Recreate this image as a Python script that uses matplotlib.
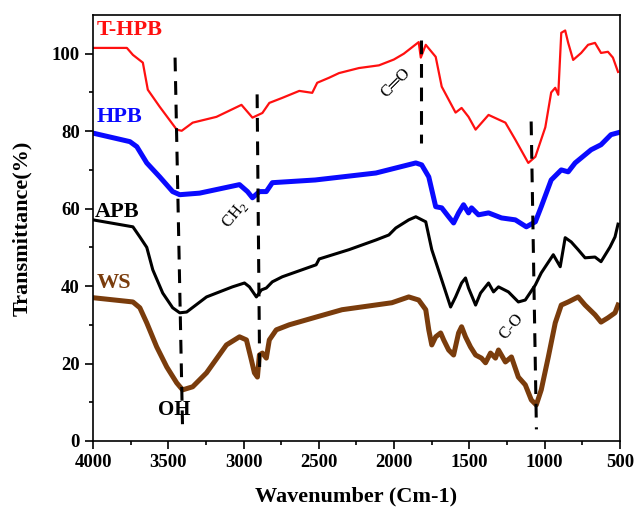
import numpy as np
import matplotlib
matplotlib.use('Agg')
from matplotlib import pyplot as plt

plt.rcParams['font.family'] = ['Liberation Serif', 'DejaVu Serif']
plt.rcParams['mathtext.fontset'] = 'custom'
plt.rcParams['mathtext.rm'] = 'Liberation Serif'

# FTIR spectra, wavenumber (cm-1) vs transmittance (%)
thpb_x = [4000, 3775, 3735, 3669, 3636, 3557, 3444, 3411, 3338, 3180, 3014, 2941, 2875,
          2829, 2743, 2630, 2544, 2511, 2432, 2366, 2234, 2101, 2002, 1936, 1870, 1837,
          1823, 1790, 1724, 1684, 1592, 1552, 1506, 1459, 1373, 1261, 1195, 1109, 1062,
          996, 957, 930, 910, 890, 864, 844, 811, 758, 712, 666, 626, 580, 547, 513]
thpb_y = [101.5, 101.5, 99.7, 97.7, 90.7, 86.3, 80.4, 80.1, 82.2, 83.7, 86.8, 83.5, 84.7,
          87.3, 88.6, 90.4, 89.9, 92.5, 93.8, 95.0, 96.3, 97.0, 98.5, 100.0, 102.0, 103.0,
          99.0, 102.3, 99.2, 91.5, 84.8, 86.0, 83.7, 80.4, 84.2, 82.2, 77.8, 71.8, 73.4,
          81.0, 90.0, 91.2, 89.4, 105.4, 106.0, 102.8, 98.4, 100.2, 102.3, 102.8, 100.2,
          100.5, 99.0, 95.3]

hpb_x = [4000, 3755, 3709, 3643, 3557, 3471, 3424, 3292, 3027, 2974, 2941, 2895, 2849,
         2809, 2524, 2121, 1856, 1817, 1770, 1724, 1684, 1638, 1605, 1572, 1539, 1506,
         1486, 1440, 1373, 1287, 1195, 1122, 1062, 1023, 957, 890, 844, 798, 692, 626,
         560, 513]
hpb_y = [79.5, 77.3, 76.0, 71.8, 68.2, 64.4, 63.6, 64.0, 66.2, 64.4, 62.8, 64.4, 64.4,
         66.7, 67.4, 69.2, 71.8, 71.3, 68.2, 60.5, 60.2, 57.9, 56.3, 58.9, 61.0, 58.9,
         60.2, 58.4, 58.9, 57.6, 57.1, 55.3, 56.6, 60.5, 67.4, 70.0, 69.5, 71.8, 75.2,
         76.5, 79.1, 79.6]

apb_x = [4000, 3735, 3689, 3643, 3603, 3537, 3471, 3424, 3378, 3246, 3074, 2994, 2961,
         2915, 2882, 2849, 2809, 2743, 2518, 2498, 2300, 2121, 2035, 1989, 1903, 1856,
         1790, 1750, 1684, 1625, 1592, 1552, 1526, 1506, 1459, 1426, 1373, 1340, 1307,
         1241, 1175, 1129, 1062, 1023, 943, 897, 864, 824, 778, 732, 666, 626, 566, 533,
         513]
apb_y = [57.1, 55.3, 52.7, 50.0, 44.2, 38.2, 34.4, 33.1, 33.3, 37.2, 39.8, 40.8, 39.8,
         37.2, 39.0, 39.5, 41.1, 42.4, 45.5, 47.0, 49.4, 51.9, 53.2, 55.0, 57.1, 57.9,
         56.6, 49.4, 41.6, 34.6, 37.2, 40.8, 42.1, 39.5, 35.1, 38.2, 40.8, 38.5, 39.8,
         38.5, 35.9, 36.4, 40.3, 43.4, 48.1, 45.0, 52.5, 51.4, 49.4, 47.3, 47.5, 46.3,
         50.1, 52.7, 56.0]

ws_x = [4000, 3735, 3689, 3643, 3577, 3510, 3444, 3405, 3338, 3246, 3114, 3027, 2981,
        2948, 2928, 2908, 2895, 2875, 2849, 2829, 2783, 2697, 2518, 2346, 2015, 1903,
        1837, 1790, 1770, 1750, 1724, 1691, 1671, 1638, 1605, 1572, 1552, 1526, 1493,
        1459, 1420, 1393, 1360, 1327, 1307, 1261, 1221, 1175, 1129, 1089, 1056, 1023,
        976, 930, 890, 844, 778, 732, 666, 626, 580, 533, 513]
ws_y = [37.0, 35.9, 34.4, 30.5, 24.3, 19.1, 15.0, 13.2, 14.0, 17.6, 24.8, 26.9, 26.1,
        20.9, 17.6, 16.5, 22.2, 22.7, 21.4, 26.1, 28.7, 30.0, 32.0, 33.9, 35.7, 37.2,
        36.4, 33.9, 28.7, 24.8, 26.9, 27.9, 26.1, 23.5, 22.2, 27.9, 29.5, 26.9, 24.3,
        22.2, 21.4, 20.2, 22.7, 21.4, 23.5, 20.4, 21.7, 16.5, 14.5, 10.6, 9.3, 13.2,
        21.7, 30.5, 35.1, 35.9, 37.2, 35.1, 32.6, 30.7, 31.8, 33.1, 35.1]

# band markers: (x_top, y_top, x_bottom, y_bottom)
band_lines = [(3455, 99, 3405, 3),
              (2910, 89.5, 2893, 17.5),
              (1823, 103.5, 1823, 77),
              (1090, 82.5, 1055, 3)]

brown = '#7a3c0c'

fig = plt.figure(figsize=(6.34, 5.12), dpi=100)
ax = fig.add_axes([0.1467, 0.1387, 0.8312, 0.832])

ax.plot(thpb_x, thpb_y, color='#ff1010', lw=1.6)
ax.plot(hpb_x, hpb_y, color='#0a0aff', lw=3.6)
ax.plot(apb_x, apb_y, color='black', lw=2.2)
ax.plot(ws_x, ws_y, color=brown, lw=3.6)

for x0, y0, x1, y1 in band_lines:
    ax.plot([x0, x1], [y0, y1], color='black', lw=2.2, linestyle=(0, (4.5, 3.2)))

ax.text(3975, 106.2, 'T-HPB', color='#ff1010', fontsize=16, fontweight='bold', va='center')
ax.text(3975, 83.7, 'HPB', color='#0a0aff', fontsize=16, fontweight='bold', va='center')
ax.text(3985, 59.2, 'APB', color='black', fontsize=16, fontweight='bold', va='center')
ax.text(3975, 40.8, 'WS', color=brown, fontsize=16, fontweight='bold', va='center')
ax.text(3460, 8, 'OH', color='black', fontsize=15, fontweight='bold', ha='center', va='center')
ax.text(3060, 58.4, r'CH$_2$', fontsize=12, rotation=50, ha='center', va='center')
ax.text(1989, 92.5, 'C═O', fontsize=12, rotation=45, ha='center', va='center')
ax.text(1221, 29.5, 'C-O', fontsize=12, rotation=50, ha='center', va='center')

ax.set_xlim(4000, 500)
ax.set_ylim(0, 110)
ax.set_xticks([4000, 3500, 3000, 2500, 2000, 1500, 1000, 500])
ax.set_xticks(np.arange(3750, 500, -500), minor=True)
ax.set_yticks([0, 20, 40, 60, 80, 100])
ax.set_yticks([10, 30, 50, 70, 90], minor=True)
ax.tick_params(which='both', direction='out', width=1.2, labelsize=13.5)
ax.tick_params(which='major', length=6)
ax.tick_params(which='minor', length=3)
for lbl in ax.get_xticklabels() + ax.get_yticklabels():
    lbl.set_fontweight('bold')
for sp in ax.spines.values():
    sp.set_linewidth(1.2)

ax.set_xlabel('Wavenumber (Cm-1)', fontsize=16, fontweight='bold', labelpad=11)
ax.set_ylabel('Transmittance(%)', fontsize=16, fontweight='bold', labelpad=14)

fig.savefig('out.png', dpi=100)
